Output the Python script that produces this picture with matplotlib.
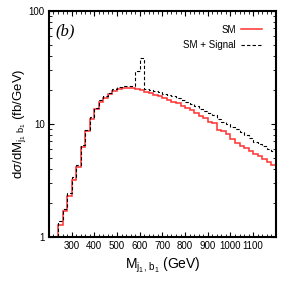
import numpy as np
import matplotlib
matplotlib.use("Agg")
import matplotlib.pyplot as plt
from matplotlib.ticker import MultipleLocator, FixedLocator, NullFormatter

plt.rcParams['font.family'] = ['Liberation Sans', 'DejaVu Sans']
plt.rcParams['mathtext.fontset'] = 'custom'
plt.rcParams['mathtext.rm'] = 'Liberation Sans'
plt.rcParams['mathtext.it'] = 'Liberation Sans:italic'

# bin edges (GeV), 20 GeV bins
edges = np.arange(240, 1201, 20)

# SM background
sm = [1.28, 1.68, 2.3, 3.2, 4.15, 6.3, 8.6, 11.1, 13.5, 15.8,
      16.9, 18.4, 19.6, 20.3, 20.6, 20.8, 20.7, 20.4, 19.9, 19.3,
      18.7, 18.2, 17.5, 17.0, 16.4, 15.8, 15.2, 14.5, 13.8, 13.3,
      12.5, 11.8, 11.3, 10.5, 10.1, 8.8, 8.6, 8.1, 7.4, 6.8,
      6.4, 6.1, 5.8, 5.4, 5.15, 4.9, 4.6, 4.35]

# SM + signal
sm_sig = [1.37, 1.78, 2.45, 3.37, 4.3, 6.5, 8.9, 11.5, 13.9, 16.3,
          17.5, 18.9, 20.3, 21.1, 21.5, 21.7, 21.8, 29.5, 38.5, 20.5,
          20.0, 19.5, 19.0, 18.5, 18.0, 17.5, 17.0, 16.3, 15.6, 15.0,
          14.3, 13.6, 12.9, 12.5, 12.0, 11.0, 10.5, 10.0, 9.4, 9.0,
          8.4, 8.0, 7.5, 6.9, 6.6, 6.4, 6.0, 5.8]

fig = plt.figure(figsize=(2.91, 2.82), dpi=100)
ax = fig.add_axes([0.168, 0.160, 0.780, 0.801])

ax.stairs(sm, edges, baseline=1, color='#ff3030', lw=1.1, label='SM')
ax.stairs(sm_sig, edges, baseline=1, color='black', lw=0.8,
          linestyle=(0, (3, 2)), label='SM + Signal')

ax.set_yscale('log')
ax.set_xlim(200, 1200)
ax.set_ylim(1, 100)

ax.xaxis.set_major_locator(FixedLocator(np.arange(300, 1101, 100)))
ax.xaxis.set_minor_locator(MultipleLocator(20))
ax.set_yticks([1, 10, 100])
ax.set_yticklabels(['1', '10', '100'])
ax.yaxis.set_minor_formatter(NullFormatter())

ax.tick_params(which='both', direction='in', top=True, right=True,
               labelsize=7, pad=3)
ax.tick_params(which='major', length=3.5, width=0.8)
ax.tick_params(which='minor', length=2, width=0.6)
for s in ax.spines.values():
    s.set_linewidth(1.5)

ax.set_xlabel(r'M$_{\mathrm{j_1,\,b_1}}$ (GeV)', fontsize=10, labelpad=3)
ax.set_ylabel(r'd$\sigma$/dM$_{\mathrm{j_1\ b_1}}$ (fb/GeV)', fontsize=9.5,
              labelpad=0.5)

ax.text(0.03, 0.89, '(b)', transform=ax.transAxes, fontsize=12,
        family='Liberation Serif', style='italic')

ax.legend(loc='upper right', frameon=False, markerfirst=False, fontsize=7,
          handlelength=2.2, handletextpad=0.5, borderaxespad=1.0,
          labelspacing=0.55)

fig.savefig('out.png', dpi=100)
